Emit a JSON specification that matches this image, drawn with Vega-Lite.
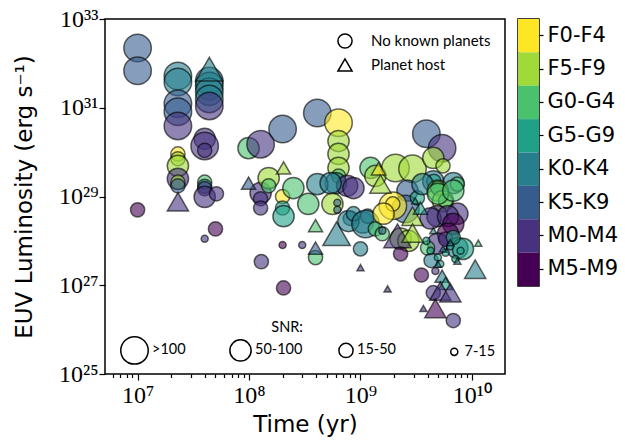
{
  "$schema": "https://vega.github.io/schema/vega-lite/v6.json",
  "background": "white",
  "padding": {"left": 12, "top": 6, "right": 5, "bottom": 5},
  "datasets": {
    "types": [
      {"spt": "F0-F4"}, {"spt": "F5-F9"}, {"spt": "G0-G4"}, {"spt": "G5-G9"},
      {"spt": "K0-K4"}, {"spt": "K5-K9"}, {"spt": "M0-M4"}, {"spt": "M5-M9"}
    ],
    "stars": [
      {"time": 1.0e7, "lum": 2.22e32, "spt": "K5-K9", "snr": ">100", "host": "No known planets"},
      {"time": 1.0e7, "lum": 6.8e31, "spt": "K5-K9", "snr": ">100", "host": "No known planets"},
      {"time": 1.0e7, "lum": 5.0e28, "spt": "M5-M9", "snr": "15-50", "host": "No known planets"},
      {"time": 2.3e7, "lum": 5.2e31, "spt": "K0-K4", "snr": ">100", "host": "No known planets"},
      {"time": 2.3e7, "lum": 3.8e31, "spt": "K0-K4", "snr": ">100", "host": "No known planets"},
      {"time": 2.3e7, "lum": 1.23e31, "spt": "K5-K9", "snr": ">100", "host": "No known planets"},
      {"time": 2.3e7, "lum": 8.1e30, "spt": "K5-K9", "snr": ">100", "host": "No known planets"},
      {"time": 2.3e7, "lum": 3.9e30, "spt": "M0-M4", "snr": ">100", "host": "No known planets"},
      {"time": 2.3e7, "lum": 9.1e29, "spt": "F0-F4", "snr": "15-50", "host": "No known planets"},
      {"time": 2.3e7, "lum": 7.1e29, "spt": "F5-F9", "snr": "15-50", "host": "No known planets"},
      {"time": 2.3e7, "lum": 4.9e29, "spt": "F5-F9", "snr": "50-100", "host": "No known planets"},
      {"time": 2.3e7, "lum": 2.5e29, "spt": "M0-M4", "snr": "50-100", "host": "No known planets"},
      {"time": 2.3e7, "lum": 2.1e29, "spt": "F5-F9", "snr": "15-50", "host": "No known planets"},
      {"time": 2.3e7, "lum": 1.74e29, "spt": "K5-K9", "snr": "15-50", "host": "No known planets"},
      {"time": 4.4e7, "lum": 4.0e31, "spt": "K0-K4", "snr": ">100", "host": "No known planets"},
      {"time": 4.4e7, "lum": 3.1e31, "spt": "K0-K4", "snr": ">100", "host": "No known planets"},
      {"time": 4.4e7, "lum": 2.3e31, "spt": "K0-K4", "snr": ">100", "host": "No known planets"},
      {"time": 4.4e7, "lum": 1.58e31, "spt": "K0-K4", "snr": ">100", "host": "No known planets"},
      {"time": 4.4e7, "lum": 1.1e31, "spt": "M0-M4", "snr": ">100", "host": "No known planets"},
      {"time": 4.0e7, "lum": 2.0e30, "spt": "M0-M4", "snr": "50-100", "host": "No known planets"},
      {"time": 4.0e7, "lum": 1.38e30, "spt": "M0-M4", "snr": ">100", "host": "No known planets"},
      {"time": 4.0e7, "lum": 1.1e30, "spt": "M0-M4", "snr": "15-50", "host": "No known planets"},
      {"time": 4.0e7, "lum": 2.1e29, "spt": "G0-G4", "snr": "15-50", "host": "No known planets"},
      {"time": 4.0e7, "lum": 1.7e29, "spt": "K0-K4", "snr": "15-50", "host": "No known planets"},
      {"time": 4.0e7, "lum": 1.5e29, "spt": "M0-M4", "snr": "15-50", "host": "No known planets"},
      {"time": 4.0e7, "lum": 9.8e28, "spt": "M0-M4", "snr": "50-100", "host": "No known planets"},
      {"time": 5.1e7, "lum": 1.15e29, "spt": "M0-M4", "snr": "15-50", "host": "No known planets"},
      {"time": 5.0e7, "lum": 1.86e28, "spt": "M5-M9", "snr": "15-50", "host": "No known planets"},
      {"time": 4.0e7, "lum": 1.12e28, "spt": "M0-M4", "snr": "7-15", "host": "No known planets"},
      {"time": 9.9e7, "lum": 1.23e30, "spt": "G0-G4", "snr": "50-100", "host": "No known planets"},
      {"time": 1.27e8, "lum": 1.51e30, "spt": "M0-M4", "snr": ">100", "host": "No known planets"},
      {"time": 2.0e8, "lum": 3.3e30, "spt": "K5-K9", "snr": ">100", "host": "No known planets"},
      {"time": 1.27e8, "lum": 1.2e29, "spt": "M0-M4", "snr": "50-100", "host": "No known planets"},
      {"time": 1.27e8, "lum": 8.9e28, "spt": "M0-M4", "snr": "15-50", "host": "No known planets"},
      {"time": 1.27e8, "lum": 5.5e28, "spt": "M0-M4", "snr": "15-50", "host": "No known planets"},
      {"time": 1.5e8, "lum": 2.6e29, "spt": "F5-F9", "snr": "50-100", "host": "No known planets"},
      {"time": 1.5e8, "lum": 1.74e29, "spt": "G0-G4", "snr": "15-50", "host": "No known planets"},
      {"time": 2.0e8, "lum": 1.0e29, "spt": "F0-F4", "snr": "15-50", "host": "No known planets"},
      {"time": 2.0e8, "lum": 5.5e28, "spt": "G5-G9", "snr": "15-50", "host": "No known planets"},
      {"time": 2.04e8, "lum": 3.6e28, "spt": "G5-G9", "snr": "50-100", "host": "No known planets"},
      {"time": 2.5e8, "lum": 1.55e29, "spt": "G0-G4", "snr": "50-100", "host": "No known planets"},
      {"time": 3.4e8, "lum": 6.8e28, "spt": "G0-G4", "snr": "50-100", "host": "No known planets"},
      {"time": 1.29e8, "lum": 3.4e27, "spt": "M0-M4", "snr": "15-50", "host": "No known planets"},
      {"time": 2.04e8, "lum": 8.7e26, "spt": "M5-M9", "snr": "15-50", "host": "No known planets"},
      {"time": 2.0e8, "lum": 8.1e27, "spt": "M5-M9", "snr": "7-15", "host": "No known planets"},
      {"time": 3.0e8, "lum": 8.1e27, "spt": "M0-M4", "snr": "7-15", "host": "No known planets"},
      {"time": 4.1e8, "lum": 7.6e30, "spt": "K5-K9", "snr": ">100", "host": "No known planets"},
      {"time": 6.35e8, "lum": 4.6e30, "spt": "F0-F4", "snr": ">100", "host": "No known planets"},
      {"time": 6.35e8, "lum": 1.78e30, "spt": "F5-F9", "snr": "50-100", "host": "No known planets"},
      {"time": 6.35e8, "lum": 9.1e29, "spt": "F5-F9", "snr": "50-100", "host": "No known planets"},
      {"time": 6.35e8, "lum": 4.4e29, "spt": "F5-F9", "snr": "50-100", "host": "No known planets"},
      {"time": 6.35e8, "lum": 2.9e29, "spt": "G0-G4", "snr": "15-50", "host": "No known planets"},
      {"time": 6.0e8, "lum": 2.0e29, "spt": "K0-K4", "snr": "50-100", "host": "No known planets"},
      {"time": 7.6e8, "lum": 1.74e29, "spt": "M0-M4", "snr": "50-100", "host": "No known planets"},
      {"time": 4.1e8, "lum": 1.9e29, "spt": "K0-K4", "snr": "50-100", "host": "No known planets"},
      {"time": 5.4e8, "lum": 2.0e29, "spt": "K0-K4", "snr": "50-100", "host": "No known planets"},
      {"time": 5.6e8, "lum": 6.8e28, "spt": "F5-F9", "snr": "50-100", "host": "No known planets"},
      {"time": 6.2e8, "lum": 7.2e28, "spt": "K5-K9", "snr": "7-15", "host": "No known planets"},
      {"time": 6.2e8, "lum": 5.0e28, "spt": "K5-K9", "snr": "7-15", "host": "No known planets"},
      {"time": 3.95e8, "lum": 4.2e27, "spt": "G0-G4", "snr": "15-50", "host": "No known planets"},
      {"time": 1.0e9, "lum": 6.6e27, "spt": "K0-K4", "snr": "15-50", "host": "No known planets"},
      {"time": 8.1e8, "lum": 3.2e28, "spt": "K0-K4", "snr": "15-50", "host": "No known planets"},
      {"time": 1.05e9, "lum": 2.6e28, "spt": "K0-K4", "snr": "50-100", "host": "No known planets"},
      {"time": 7.8e8, "lum": 2.8e28, "spt": "K0-K4", "snr": "50-100", "host": "No known planets"},
      {"time": 8.65e8, "lum": 1.55e29, "spt": "M0-M4", "snr": "50-100", "host": "No known planets"},
      {"time": 8.65e8, "lum": 4.1e28, "spt": "K0-K4", "snr": "15-50", "host": "No known planets"},
      {"time": 1.16e9, "lum": 3.6e28, "spt": "K0-K4", "snr": "15-50", "host": "No known planets"},
      {"time": 1.11e9, "lum": 2.4e28, "spt": "K0-K4", "snr": ">100", "host": "No known planets"},
      {"time": 1.36e9, "lum": 1.86e28, "spt": "G0-G4", "snr": "15-50", "host": "No known planets"},
      {"time": 1.57e9, "lum": 1.45e28, "spt": "G0-G4", "snr": "15-50", "host": "No known planets"},
      {"time": 1.57e9, "lum": 1.7e28, "spt": "K5-K9", "snr": "7-15", "host": "No known planets"},
      {"time": 1.23e9, "lum": 4.4e29, "spt": "G0-G4", "snr": "50-100", "host": "No known planets"},
      {"time": 1.36e9, "lum": 2.9e29, "spt": "F5-F9", "snr": "50-100", "host": "No known planets"},
      {"time": 2.06e9, "lum": 4.4e29, "spt": "F5-F9", "snr": ">100", "host": "No known planets"},
      {"time": 2.93e9, "lum": 4.2e29, "spt": "F5-F9", "snr": ">100", "host": "No known planets"},
      {"time": 2.64e9, "lum": 1.35e29, "spt": "K5-K9", "snr": "50-100", "host": "No known planets"},
      {"time": 2.53e9, "lum": 5.2e28, "spt": "K5-K9", "snr": ">100", "host": "No known planets"},
      {"time": 1.95e9, "lum": 6.2e28, "spt": "F0-F4", "snr": ">100", "host": "No known planets"},
      {"time": 1.95e9, "lum": 6.8e28, "spt": "F0-F4", "snr": "15-50", "host": "No known planets"},
      {"time": 1.61e9, "lum": 4.1e28, "spt": "F0-F4", "snr": "50-100", "host": "No known planets"},
      {"time": 2.29e9, "lum": 1.12e28, "spt": "F5-F9", "snr": "50-100", "host": "No known planets"},
      {"time": 2.69e9, "lum": 1.0e28, "spt": "F5-F9", "snr": "50-100", "host": "No known planets"},
      {"time": 2.29e9, "lum": 5.1e27, "spt": "M5-M9", "snr": "15-50", "host": "No known planets"},
      {"time": 3.24e9, "lum": 9.3e28, "spt": "G5-G9", "snr": "15-50", "host": "No known planets"},
      {"time": 3.9e9, "lum": 2.6e30, "spt": "K5-K9", "snr": ">100", "host": "No known planets"},
      {"time": 5.4e9, "lum": 1.23e30, "spt": "M0-M4", "snr": ">100", "host": "No known planets"},
      {"time": 4.5e9, "lum": 7.4e29, "spt": "F5-F9", "snr": "50-100", "host": "No known planets"},
      {"time": 5.5e9, "lum": 4.9e29, "spt": "F5-F9", "snr": "15-50", "host": "No known planets"},
      {"time": 4.5e9, "lum": 2.2e29, "spt": "K0-K4", "snr": "50-100", "host": "No known planets"},
      {"time": 4.55e9, "lum": 2.2e29, "spt": "G5-G9", "snr": "15-50", "host": "No known planets"},
      {"time": 3.6e9, "lum": 1.9e29, "spt": "K0-K4", "snr": "50-100", "host": "No known planets"},
      {"time": 6.8e9, "lum": 2.0e29, "spt": "K0-K4", "snr": "50-100", "host": "No known planets"},
      {"time": 7.4e9, "lum": 1.9e29, "spt": "G0-G4", "snr": "15-50", "host": "No known planets"},
      {"time": 4.95e9, "lum": 1.35e29, "spt": "F5-F9", "snr": "50-100", "host": "No known planets"},
      {"time": 4.95e9, "lum": 1.55e29, "spt": "G0-G4", "snr": "15-50", "host": "No known planets"},
      {"time": 5.5e9, "lum": 7.9e28, "spt": "F5-F9", "snr": "50-100", "host": "No known planets"},
      {"time": 5.8e9, "lum": 7.9e28, "spt": "G0-G4", "snr": "15-50", "host": "No known planets"},
      {"time": 4.95e9, "lum": 1.15e29, "spt": "G0-G4", "snr": "50-100", "host": "No known planets"},
      {"time": 6.8e9, "lum": 1.35e29, "spt": "G0-G4", "snr": "50-100", "host": "No known planets"},
      {"time": 4.9e9, "lum": 3.6e28, "spt": "M0-M4", "snr": "50-100", "host": "No known planets"},
      {"time": 7.4e9, "lum": 4.1e28, "spt": "M0-M4", "snr": "50-100", "host": "No known planets"},
      {"time": 4.25e9, "lum": 3.2e28, "spt": "M0-M4", "snr": "50-100", "host": "No known planets"},
      {"time": 6.1e9, "lum": 3.6e28, "spt": "M0-M4", "snr": "50-100", "host": "No known planets"},
      {"time": 6.8e9, "lum": 2.4e28, "spt": "M5-M9", "snr": "50-100", "host": "No known planets"},
      {"time": 6.1e9, "lum": 1.45e28, "spt": "M5-M9", "snr": "50-100", "host": "No known planets"},
      {"time": 4.95e9, "lum": 8.7e27, "spt": "M0-M4", "snr": "50-100", "host": "No known planets"},
      {"time": 7.4e9, "lum": 6.9e27, "spt": "K0-K4", "snr": "50-100", "host": "No known planets"},
      {"time": 8.3e9, "lum": 6.6e27, "spt": "G5-G9", "snr": "50-100", "host": "No known planets"},
      {"time": 4.0e9, "lum": 6.9e27, "spt": "G0-G4", "snr": "15-50", "host": "No known planets"},
      {"time": 5.8e9, "lum": 1.1e28, "spt": "M0-M4", "snr": "15-50", "host": "No known planets"},
      {"time": 6.8e9, "lum": 1.2e28, "spt": "G5-G9", "snr": "15-50", "host": "No known planets"},
      {"time": 4.3e9, "lum": 3.6e27, "spt": "K0-K4", "snr": "15-50", "host": "No known planets"},
      {"time": 3.9e9, "lum": 1.0e28, "spt": "G5-G9", "snr": "7-15", "host": "No known planets"},
      {"time": 4.25e9, "lum": 6.0e27, "spt": "G5-G9", "snr": "7-15", "host": "No known planets"},
      {"time": 4.95e9, "lum": 4.2e27, "spt": "G5-G9", "snr": "7-15", "host": "No known planets"},
      {"time": 5.8e9, "lum": 5.4e27, "spt": "G5-G9", "snr": "7-15", "host": "No known planets"},
      {"time": 6.4e9, "lum": 7.6e27, "spt": "G5-G9", "snr": "7-15", "host": "No known planets"},
      {"time": 7.1e9, "lum": 3.9e27, "spt": "G5-G9", "snr": "7-15", "host": "No known planets"},
      {"time": 5.2e9, "lum": 3.0e27, "spt": "G5-G9", "snr": "7-15", "host": "No known planets"},
      {"time": 7.9e9, "lum": 6.0e27, "spt": "G5-G9", "snr": "7-15", "host": "No known planets"},
      {"time": 3.52e9, "lum": 1.7e27, "spt": "M5-M9", "snr": "15-50", "host": "No known planets"},
      {"time": 4.7e9, "lum": 2.1e27, "spt": "M0-M4", "snr": "7-15", "host": "No known planets"},
      {"time": 4.5e9, "lum": 6.8e26, "spt": "M0-M4", "snr": "15-50", "host": "No known planets"},
      {"time": 6.8e9, "lum": 1.6e26, "spt": "M0-M4", "snr": "15-50", "host": "No known planets"},
      {"time": 2.3e7, "lum": 7.6e28, "spt": "M0-M4", "snr": "50-100", "host": "Planet host"},
      {"time": 4.4e7, "lum": 7.4e31, "spt": "K0-K4", "snr": ">100", "host": "Planet host"},
      {"time": 9.9e7, "lum": 2.0e29, "spt": "K5-K9", "snr": "15-50", "host": "Planet host"},
      {"time": 2.04e8, "lum": 4.4e29, "spt": "F5-F9", "snr": "15-50", "host": "Planet host"},
      {"time": 3.95e8, "lum": 2.2e28, "spt": "G0-G4", "snr": "15-50", "host": "Planet host"},
      {"time": 6.1e8, "lum": 1.45e28, "spt": "K0-K4", "snr": ">100", "host": "Planet host"},
      {"time": 3.95e8, "lum": 6.9e27, "spt": "K5-K9", "snr": "15-50", "host": "Planet host"},
      {"time": 1.0e9, "lum": 2.5e27, "spt": "M0-M4", "snr": "7-15", "host": "Planet host"},
      {"time": 1.75e9, "lum": 8.3e26, "spt": "M0-M4", "snr": "7-15", "host": "Planet host"},
      {"time": 1.45e9, "lum": 4.2e29, "spt": "F0-F4", "snr": "15-50", "host": "Planet host"},
      {"time": 1.51e9, "lum": 1.9e29, "spt": "F5-F9", "snr": "50-100", "host": "Planet host"},
      {"time": 2.15e9, "lum": 1.3e28, "spt": "M0-M4", "snr": ">100", "host": "Planet host"},
      {"time": 2.93e9, "lum": 3.6e28, "spt": "F5-F9", "snr": "50-100", "host": "Planet host"},
      {"time": 2.93e9, "lum": 1.5e28, "spt": "F5-F9", "snr": "50-100", "host": "Planet host"},
      {"time": 3.1e9, "lum": 7.9e28, "spt": "G5-G9", "snr": "7-15", "host": "Planet host"},
      {"time": 3.45e9, "lum": 5.5e28, "spt": "G5-G9", "snr": "15-50", "host": "Planet host"},
      {"time": 4.5e9, "lum": 1.7e28, "spt": "K0-K4", "snr": "7-15", "host": "Planet host"},
      {"time": 5.5e9, "lum": 6.6e27, "spt": "K0-K4", "snr": "7-15", "host": "Planet host"},
      {"time": 6.4e9, "lum": 9.1e27, "spt": "K0-K4", "snr": "7-15", "host": "Planet host"},
      {"time": 7.4e9, "lum": 3.5e27, "spt": "K0-K4", "snr": "7-15", "host": "Planet host"},
      {"time": 4.95e9, "lum": 3.0e27, "spt": "K0-K4", "snr": "7-15", "host": "Planet host"},
      {"time": 5.4e9, "lum": 1.6e27, "spt": "K0-K4", "snr": "15-50", "host": "Planet host"},
      {"time": 5.8e9, "lum": 1.1e27, "spt": "G5-G9", "snr": "15-50", "host": "Planet host"},
      {"time": 5.2e9, "lum": 7.4e26, "spt": "M0-M4", "snr": "50-100", "host": "Planet host"},
      {"time": 6.4e9, "lum": 6.8e26, "spt": "M0-M4", "snr": "50-100", "host": "Planet host"},
      {"time": 3.67e9, "lum": 3.0e26, "spt": "M0-M4", "snr": "7-15", "host": "Planet host"},
      {"time": 4.7e9, "lum": 3.0e26, "spt": "M5-M9", "snr": "50-100", "host": "Planet host"},
      {"time": 1.14e10, "lum": 8.9e27, "spt": "G0-G4", "snr": "7-15", "host": "Planet host"},
      {"time": 1.07e10, "lum": 2.3e27, "spt": "K0-K4", "snr": "50-100", "host": "Planet host"}
    ]
  },
  "spacing": 13,
  "bounds": "flush",
  "resolve": {"scale": {"color": "independent", "size": "independent", "shape": "independent"}},
  "hconcat": [
    {
      "width": 400,
      "height": 355,
      "data": {"name": "stars"},
      "mark": {"type": "point", "filled": true, "fillOpacity": 0.6, "strokeOpacity": 0.6, "stroke": "black", "strokeWidth": 1.5},
      "encoding": {
        "x": {
          "field": "time", "type": "quantitative",
          "scale": {"type": "log", "domain": [5.1e6, 1.98e10], "nice": false},
          "axis": {
            "title": "Time (yr)",
            "values": [6e6, 7e6, 8e6, 9e6, 1e7, 2e7, 3e7, 4e7, 5e7, 6e7, 7e7, 8e7, 9e7, 1e8, 2e8, 3e8, 4e8, 5e8, 6e8, 7e8, 8e8, 9e8, 1e9, 2e9, 3e9, 4e9, 5e9, 6e9, 7e9, 8e9, 9e9, 1e10],
            "labelExpr": "datum.value == 1e7 ? '10⁷' : datum.value == 1e8 ? '10⁸' : datum.value == 1e9 ? '10⁹' : datum.value == 1e10 ? '10¹⁰' : ''",
            "tickSize": {"condition": {"test": "datum.value == 1e7 || datum.value == 1e8 || datum.value == 1e9 || datum.value == 1e10", "value": 6}, "value": 3.5},
            "labelOverlap": false,
            "labelFlush": false,
            "labelFont": "Liberation Serif",
            "labelFontSize": 24,
            "labelPadding": 3,
            "titleFont": "DejaVu Sans",
            "titleFontSize": 23,
            "titlePadding": 6,
            "domain": false,
            "grid": false
          }
        },
        "y": {
          "field": "lum", "type": "quantitative",
          "scale": {"type": "log", "domain": [1e25, 1e33], "nice": false},
          "axis": {
            "title": "EUV Luminosity (erg s⁻¹)",
            "values": [1e25, 1e27, 1e29, 1e31, 1e33],
            "labelExpr": "datum.value == 1e25 ? '10²⁵' : datum.value == 1e27 ? '10²⁷' : datum.value == 1e29 ? '10²⁹' : datum.value == 1e31 ? '10³¹' : datum.value == 1e33 ? '10³³' : ''",
            "labelFlush": false,
            "labelOverlap": false,
            "labelFont": "Liberation Serif",
            "labelFontSize": 24,
            "labelPadding": 1,
            "tickSize": 6,
            "titleFont": "DejaVu Sans",
            "titleFontSize": 23,
            "titlePadding": 22,
            "domain": false,
            "grid": false
          }
        },
        "color": {
          "field": "spt", "type": "nominal",
          "scale": {
            "domain": ["F0-F4", "F5-F9", "G0-G4", "G5-G9", "K0-K4", "K5-K9", "M0-M4", "M5-M9"],
            "range": ["#fde725", "#a0da39", "#4ac16d", "#1fa187", "#277f8e", "#365c8d", "#46327e", "#440154"]
          },
          "legend": null
        },
        "size": {
          "field": "snr", "type": "ordinal",
          "scale": {"type": "ordinal", "domain": [">100", "50-100", "15-50", "7-15"], "range": [755, 452, 201, 50]},
          "legend": {
            "orient": "bottom-left",
            "direction": "horizontal",
            "title": "SNR:",
            "titleFont": "Lato",
            "titleFontSize": 14.5,
            "titleFontWeight": "normal",
            "titleAnchor": "middle",
            "titleAlign": "right",
            "titlePadding": 0,
            "labelFont": "Lato",
            "labelFontSize": 14.5,
            "labelOffset": 3,
            "symbolOffset": 9,
            "gridAlign": "all",
            "columnPadding": 26,
            "symbolType": "circle",
            "symbolStrokeColor": "black",
            "symbolFillColor": "transparent",
            "symbolStrokeWidth": 1.5,
            "symbolOpacity": 1,
            "offset": 6,
            "padding": 0
          }
        },
        "shape": {
          "field": "host", "type": "nominal",
          "scale": {"domain": ["No known planets", "Planet host"], "range": ["circle", "triangle-up"]},
          "legend": {
            "orient": "top-right",
            "title": null,
            "symbolSize": 200,
            "symbolStrokeWidth": 1.5,
            "symbolStrokeColor": "black",
            "symbolFillColor": "transparent",
            "symbolOpacity": 1,
            "labelFont": "Lato",
            "labelFontSize": 15,
            "labelOffset": 18,
            "rowPadding": 3,
            "offset": 14,
            "padding": 0
          }
        }
      }
    },
    {
      "width": 21,
      "height": 267,
      "data": {"name": "types"},
      "mark": {"type": "rect"},
      "encoding": {
        "y": {
          "field": "spt", "type": "nominal",
          "scale": {"domain": ["F0-F4", "F5-F9", "G0-G4", "G5-G9", "K0-K4", "K5-K9", "M0-M4", "M5-M9"], "paddingInner": 0, "paddingOuter": 0},
          "axis": {
            "orient": "right",
            "title": null,
            "domain": false,
            "tickSize": 4,
            "labelPadding": 4,
            "labelFont": "DejaVu Sans",
            "labelFontSize": 21,
            "grid": false
          }
        },
        "color": {
          "field": "spt", "type": "nominal",
          "scale": {
            "domain": ["F0-F4", "F5-F9", "G0-G4", "G5-G9", "K0-K4", "K5-K9", "M0-M4", "M5-M9"],
            "range": ["#fde725", "#a0da39", "#4ac16d", "#1fa187", "#277f8e", "#365c8d", "#46327e", "#440154"]
          },
          "legend": null
        }
      }
    }
  ],
  "config": {
    "view": {"stroke": "black", "strokeWidth": 1.5},
    "axis": {"tickColor": "black", "labelColor": "black", "titleColor": "black", "titleFontWeight": "normal", "tickWidth": 1.2},
    "legend": {"labelColor": "black", "titleColor": "black"}
  }
}
